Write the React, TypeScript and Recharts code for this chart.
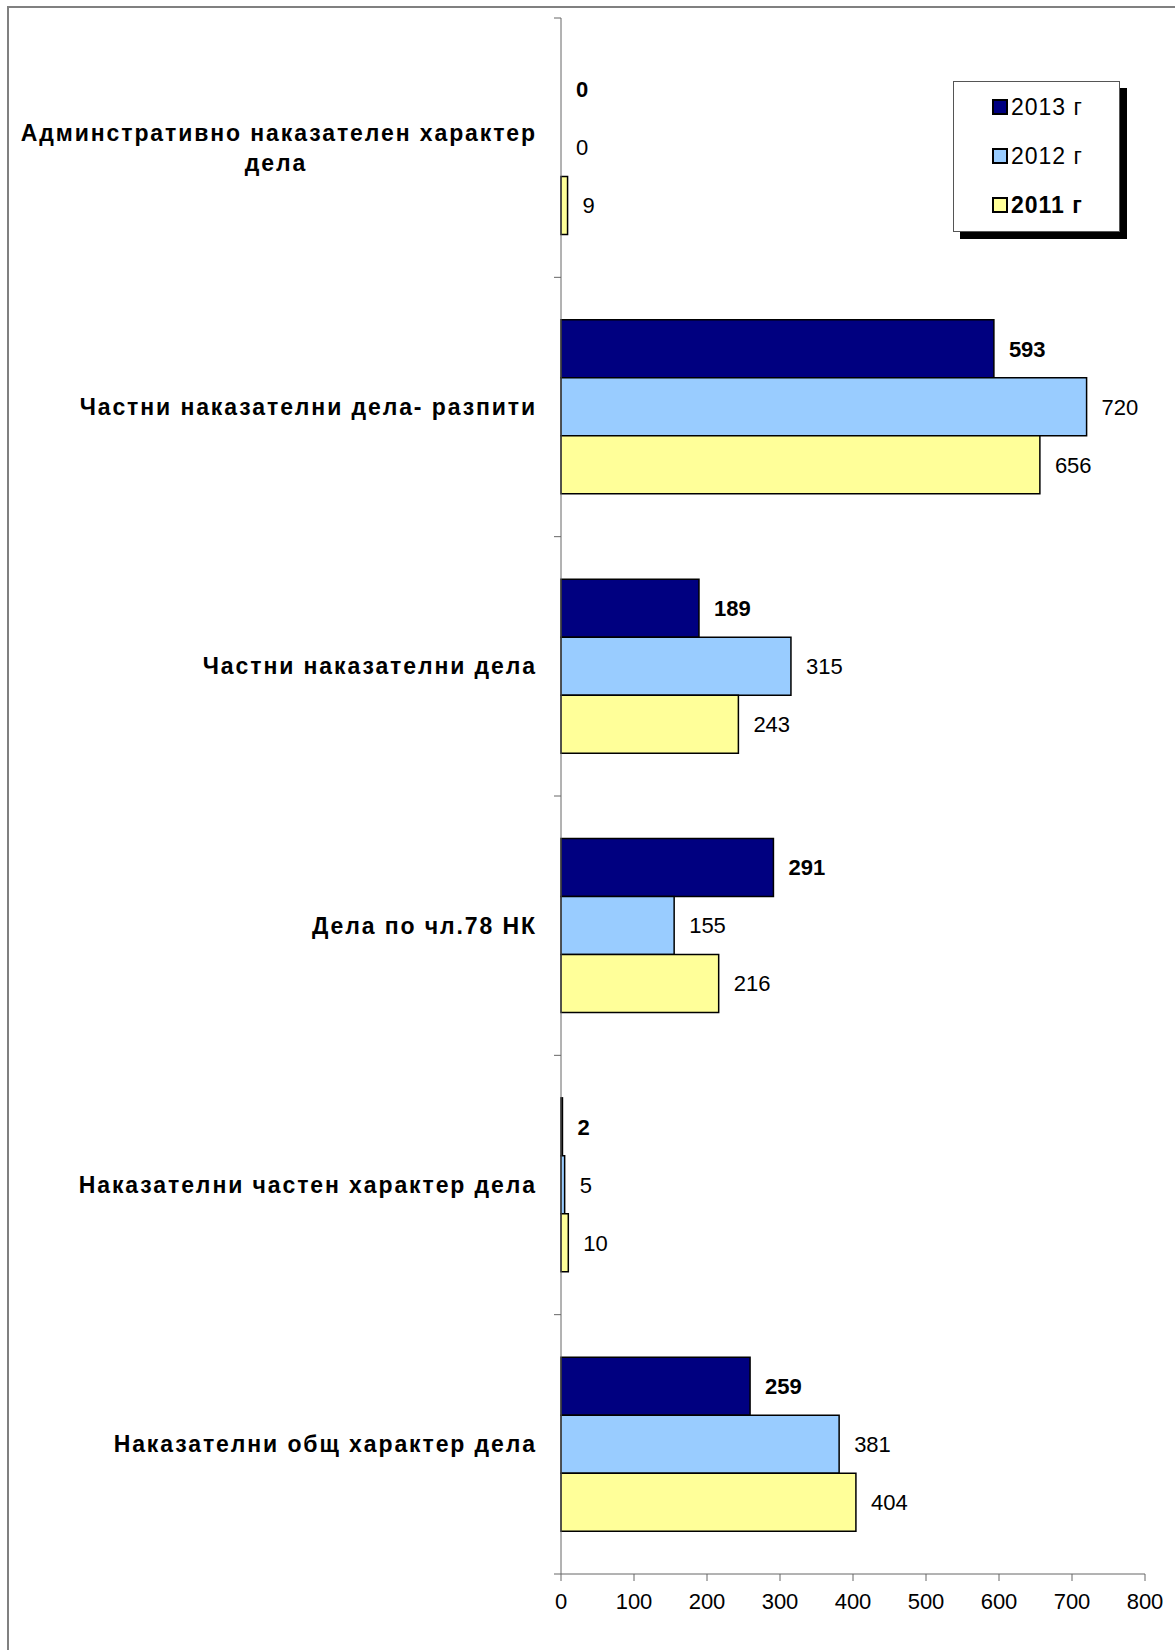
import React from 'react'
import { BarChart, Bar, XAxis, YAxis, LabelList, Cell } from 'recharts'

const categories = [
  'Админстративно наказателен характер дела',
  'Частни наказателни дела- разпити',
  'Частни наказателни дела',
  'Дела по чл.78 НК',
  'Наказателни частен характер дела',
  'Наказателни общ характер дела',
]
const v2013 = [0, 593, 189, 291, 2, 259]
const v2012 = [0, 720, 315, 155, 5, 381]
const v2011 = [9, 656, 243, 216, 10, 404]
const xTicks = [0, 100, 200, 300, 400, 500, 600, 700, 800]

const C = { y2013: '#000080', y2012: '#99CCFF', y2011: '#FFFF99', axis: '#666666' }
const FONT = '"Liberation Sans", Arial, sans-serif'

const W = 1175
const H = 1650
const PLOT_LEFT = 561
const PLOT_TOP = 18
const PLOT_BOTTOM = 1574
const BAND = (PLOT_BOTTOM - PLOT_TOP) / categories.length

const data = categories.map((name, i) => ({ name, y2013: v2013[i], y2012: v2012[i], y2011: v2011[i] }))

// zero values still need their label, so give them a hair-thin invisible bar
const minSize = (v: number) => (v === 0 ? 0.01 : 0)

const CatTick = ({ y, payload, index }: any) => {
  const name: string = payload.value
  const right = PLOT_LEFT - 24
  const top = y - BAND / 2
  const twoLine = index === 0
  const txt = { fontFamily: FONT, fontSize: 23, fontWeight: 'bold' as const, fill: '#000', letterSpacing: 1.9 }
  return (
    <g>
      <line x1={PLOT_LEFT - 7} x2={PLOT_LEFT} y1={top} y2={top} stroke={C.axis} strokeWidth={1} />
      {index === categories.length - 1 && (
        <line x1={PLOT_LEFT - 7} x2={PLOT_LEFT} y1={top + BAND} y2={top + BAND} stroke={C.axis} strokeWidth={1} />
      )}
      {twoLine ? (
        <text {...txt} dominantBaseline="central">
          <tspan x={right} y={y - 15} textAnchor="end">Админстративно наказателен характер</tspan>
          <tspan x={276} y={y + 15} textAnchor="middle">дела</tspan>
        </text>
      ) : (
        <text x={right} y={y} textAnchor="end" dominantBaseline="central" {...txt}>
          {name}
        </text>
      )}
    </g>
  )
}

const legendItems = [
  { label: '2013 г', color: C.y2013, bold: false },
  { label: '2012 г', color: C.y2012, bold: false },
  { label: '2011 г', color: C.y2011, bold: true },
]

export default function App() {
  return (
    <div style={{ position: 'absolute', left: 0, top: 0, width: W, height: H, background: '#fff', overflow: 'hidden', fontFamily: FONT }}>
      <div style={{ position: 'absolute', left: 7, top: 6, width: W, height: H, borderLeft: '2px solid #808080', borderTop: '2px solid #808080' }} />
      <BarChart
        width={W}
        height={H}
        data={data}
        layout="vertical"
        margin={{ top: PLOT_TOP, right: 30, bottom: 0, left: 8 }}
        barCategoryGap="16.4%"
        barGap={0}
        style={{ position: 'absolute', left: 0, top: 0 }}
      >
        <XAxis
          type="number"
          domain={[0, 800]}
          ticks={xTicks}
          height={H - PLOT_BOTTOM}
          tickSize={7}
          tickMargin={12}
          stroke={C.axis}
          tick={{ fill: '#000', fontSize: 22, fontFamily: FONT }}
        />
        <YAxis
          type="category"
          dataKey="name"
          width={PLOT_LEFT - 8}
          interval={0}
          tickLine={false}
          stroke={C.axis}
          tick={<CatTick />}
        />
        <Bar dataKey="y2013" fill={C.y2013} stroke="#000" strokeWidth={1.5} minPointSize={minSize} isAnimationActive={false}>
          {v2013.map((v, i) => <Cell key={i} stroke={v === 0 ? 'none' : '#000'} />)}
          <LabelList dataKey="y2013" position="right" offset={15} fill="#000" fontSize={22} fontWeight="bold" fontFamily={FONT} />
        </Bar>
        <Bar dataKey="y2012" fill={C.y2012} stroke="#000" strokeWidth={1.5} minPointSize={minSize} isAnimationActive={false}>
          {v2012.map((v, i) => <Cell key={i} stroke={v === 0 ? 'none' : '#000'} />)}
          <LabelList dataKey="y2012" position="right" offset={15} fill="#000" fontSize={22} fontFamily={FONT} />
        </Bar>
        <Bar dataKey="y2011" fill={C.y2011} stroke="#000" strokeWidth={1.5} minPointSize={minSize} isAnimationActive={false}>
          {v2011.map((v, i) => <Cell key={i} stroke={v === 0 ? 'none' : '#000'} />)}
          <LabelList dataKey="y2011" position="right" offset={15} fill="#000" fontSize={22} fontFamily={FONT} />
        </Bar>
      </BarChart>
      {/* legend box with drop shadow */}
      <div style={{ position: 'absolute', left: 960, top: 88, width: 167, height: 151, background: '#000' }} />
      <div style={{ position: 'absolute', left: 953, top: 81, width: 165, height: 149, background: '#fff', border: '1px solid #555' }}>
        {legendItems.map((it, i) => (
          <div key={it.label} style={{ position: 'absolute', left: 38, top: 25 + i * 49 - 14, height: 28, display: 'flex', alignItems: 'center' }}>
            <span style={{ display: 'inline-block', width: 12, height: 12, background: it.color, border: '2px solid #000', marginRight: 3 }} />
            <span style={{ fontSize: 23, letterSpacing: 1, fontWeight: it.bold ? 'bold' : 'normal', color: '#000' }}>{it.label}</span>
          </div>
        ))}
      </div>
    </div>
  )
}
